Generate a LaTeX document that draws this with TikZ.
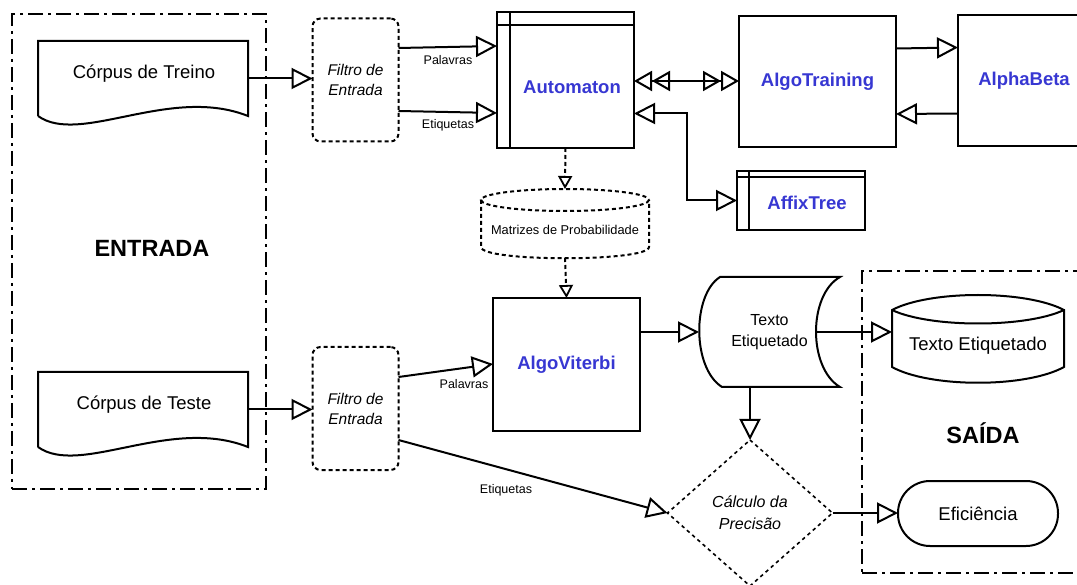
\documentclass[tikz,border=0pt]{standalone}
\usepackage{fontspec}
\setmainfont{Liberation Sans}
\usetikzlibrary{arrows.meta,calc}
\definecolor{classblue}{RGB}{55,55,210}
\newcommand\fsz[2]{\fontsize{#1}{#2}\selectfont}
\tikzset{
  ln/.style={line width=2pt},
  bigtip/.tip={Triangle[open,length=21pt,width=21pt]},
  flow/.style={ln,-bigtip},
  biflow/.style={ln,bigtip-bigtip},
  dblflow/.style={ln,{Triangle[open,length=18pt,width=20pt]Triangle[open,length=18pt,width=20pt]}-{Triangle[open,length=18pt,width=20pt]Triangle[open,length=18pt,width=20pt]}},
  dotflow/.style={ln,dash pattern=on 4pt off 3pt,-{Triangle[open,length=13pt,width=14pt,line width=1.8pt]}},
  holder/.style={inner sep=0pt,outer sep=0pt,draw=none},
  classbox/.style={holder,draw,ln},
  classname/.style={text=classblue,font=\fsz{18.5}{22}\bfseries},
  zone/.style={holder,draw,line width=1.6pt,dash pattern=on 15pt off 5pt on 3pt off 5pt},
  zonetitle/.style={font=\fsz{23.5}{28}\bfseries},
  filterbox/.style={holder,draw,ln,dash pattern=on 4pt off 3pt,rounded corners=8pt,
    minimum width=86pt,minimum height=123pt,align=center,font=\fsz{15.5}{20}\itshape},
  smalllbl/.style={font=\fsz{12.5}{15}},
  doctext/.style={font=\fsz{18.5}{22}},
}
\begin{document}
\begin{tikzpicture}[x=1pt,y=-1pt]
\useasboundingbox (0,0) rectangle (1077,585);

% input and output zones
\node[zone,minimum width=254pt,minimum height=475pt] (inzone) at (139,251.5) {};
\node[zonetitle] (intitle) at (152,248) {ENTRADA};
\node[zone,minimum width=228pt,minimum height=302pt] (outzone) at (976,422) {};
\node[zonetitle] (outtitle) at (983,433) {SAÍDA};

% training corpus document
\node[holder,minimum width=210pt,minimum height=75pt] (traindoc) at (143,78.5) {};
\draw[ln] (traindoc.south west) -- (traindoc.north west) -- (traindoc.north east) -- (traindoc.south east)
  .. controls +(-78,-31) and +(42,30) .. (traindoc.south west);
\node[doctext] (traintext) at (144,73.5) {Córpus de Treino};

% test corpus document
\node[holder,minimum width=210pt,minimum height=75pt] (testdoc) at (143,409.5) {};
\draw[ln] (testdoc.south west) -- (testdoc.north west) -- (testdoc.north east) -- (testdoc.south east)
  .. controls +(-78,-31) and +(42,30) .. (testdoc.south west);
\node[doctext] (testtext) at (144,404.5) {Córpus de Teste};

% input filters
\node[filterbox] (filtA) at (355.5,80) {Filtro de\\Entrada};
\node[filterbox] (filtB) at (355.5,408.5) {Filtro de\\Entrada};

% Automaton
\node[classbox,minimum width=137pt,minimum height=136pt] (autom) at (565.5,80) {};
\draw[ln] ($(autom.north west)+(13,0)$) -- ($(autom.south west)+(13,0)$);
\draw[ln] ($(autom.north west)+(0,13)$) -- ($(autom.north east)+(0,13)$);
\node[classname] (automtext) at (572,87) {Automaton};

% AlgoTraining and AlphaBeta
\node[classbox,classname,minimum width=157pt,minimum height=131pt] (algotr) at (817.5,81.5) {AlgoTraining};
\node[classbox,classname,minimum width=132pt,minimum height=131pt] (alphab) at (1024,80.5) {AlphaBeta};

% AffixTree
\node[classbox,minimum width=127.5pt,minimum height=59pt] (affix) at (800.75,200.5) {};
\draw[ln] ($(affix.north west)+(12,0)$) -- ($(affix.south west)+(12,0)$);
\draw[ln] ($(affix.north west)+(0,6)$) -- ($(affix.north east)+(0,6)$);
\node[classname] (affixtext) at (807,203) {AffixTree};

% probability matrices (dashed cylinder)
\node[holder,minimum width=168pt,minimum height=69pt] (matriz) at (565,223.5) {};
\draw[ln,dash pattern=on 4pt off 3pt] ($(matriz.north)+(0,11)$) ellipse [x radius=84, y radius=11];
\draw[ln,dash pattern=on 4pt off 3pt] ($(matriz.north west)+(0,11)$) -- ($(matriz.south west)+(0,-11)$)
  .. controls +(0,15) and +(0,15) .. ($(matriz.south east)+(0,-11)$) -- ($(matriz.north east)+(0,11)$);
\node[smalllbl,font=\fsz{12.8}{15}] (matriztext) at (565,230) {Matrizes de Probabilidade};

% AlgoViterbi
\node[classbox,classname,minimum width=147pt,minimum height=133pt] (viterbi) at (566.5,364.5) {AlgoViterbi};

% tagged text (stored data shape)
\node[holder,minimum width=141pt,minimum height=110pt,align=center,font=\fsz{16}{21}] (tagged) at (769.5,332) {Texto\\Etiquetado};
\draw[ln] ($(tagged.north west)+(21,0)$) -- (tagged.north east)
  .. controls +(-32,18) and +(-32,-19) .. (tagged.south east)
  -- ($(tagged.south west)+(23,0)$)
  .. controls +(-30,-19) and +(-28,18) .. ($(tagged.north west)+(21,0)$) -- cycle;
\coordinate (taggedout) at ($(tagged.east)+(-24,0)$);

% tagged text database
\node[holder,minimum width=172pt,minimum height=88pt] (tdb) at (978,339) {};
\draw[ln] ($(tdb.north west)+(0,15)$) .. controls +(38,-20) and +(-38,-20) .. ($(tdb.north east)+(0,15)$)
  -- ($(tdb.south east)+(0,-16)$) .. controls +(-38,21) and +(38,21) .. ($(tdb.south west)+(0,-16)$) -- cycle;
\draw[ln] ($(tdb.north west)+(0,15)$) .. controls +(38,18) and +(-38,18) .. ($(tdb.north east)+(0,15)$);
\node[doctext] (tdbtext) at (978,346) {Texto Etiquetado};

% precision check (dotted diamond)
\node[holder,minimum width=165pt,minimum height=146pt,align=center,font=\fsz{16}{22}\itshape] (precis) at (750,513) {Cálculo da\\Precisão};
\draw[line width=1.6pt,dash pattern=on 3.5pt off 3.5pt] (precis.north) -- (precis.east) -- (precis.south) -- (precis.west) -- cycle;

% efficiency terminal
\node[holder,draw,ln,rounded corners=32pt,minimum width=160pt,minimum height=65pt,doctext] (effic) at (978,513.5) {Eficiência};

% connectors
\draw[flow] (traindoc.east) -- (traindoc.east -| filtA.west);
\draw[flow] (testdoc.east) -- (testdoc.east -| filtB.west);
\draw[flow] (filtA.east |- 0,48) -- (autom.west |- 0,46);
\draw[flow] (filtA.east |- 0,111) -- (autom.west |- 0,113);
\node[smalllbl] (lblA1) at (448,60) {Palavras};
\node[smalllbl] (lblA2) at (448,125) {Etiquetas};
\draw[dblflow] (autom.east |- 0,81) -- (algotr.west |- 0,81);
\draw[flow] (algotr.east |- 0,48.5) -- (alphab.west |- 0,47.5);
\draw[flow] (alphab.west |- 0,113.5) -- (algotr.east |- 0,114);
\draw[biflow] (autom.east |- 0,113.5) -| ($(affix.west)+(-50,0)$) -- (affix.west);
\draw[dotflow] (autom.south) -- (matriz.north);
\draw[dotflow] (matriz.south) -- (viterbi.north);
\draw[flow] (filtB.east |- 0,377) -- (viterbi.west |- 0,364);
\node[smalllbl] (lblB1) at (464,384) {Palavras};
\draw[flow] (filtB.east |- 0,440) -- (precis.west);
\node[smalllbl] (lblB2) at (506,490) {Etiquetas};
\draw[flow] (viterbi.east |- tagged.west) -- (tagged.west);
\draw[flow] (taggedout) -- (tdb.west |- taggedout);
\draw[flow] (precis.north |- tagged.south) -- (precis.north);
\draw[flow] (precis.east) -- (precis.east -| effic.west);
\end{tikzpicture}
\end{document}
